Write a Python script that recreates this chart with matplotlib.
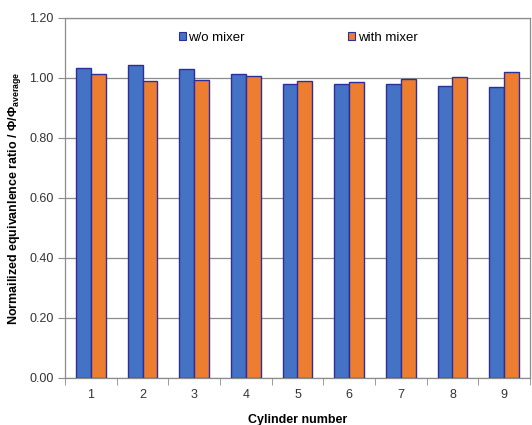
import matplotlib
matplotlib.use("Agg")
import matplotlib.pyplot as plt
from matplotlib.patches import Patch
import numpy as np

plt.rcParams['font.family'] = ['Liberation Sans', 'DejaVu Sans']
plt.rcParams['mathtext.fontset'] = 'custom'
plt.rcParams['mathtext.rm'] = 'Liberation Sans'
plt.rcParams['mathtext.bf'] = 'Liberation Sans:bold'

cylinders = ["1", "2", "3", "4", "5", "6", "7", "8", "9"]
without_mixer = [1.032, 1.043, 1.029, 1.012, 0.981, 0.979, 0.980, 0.974, 0.971]
with_mixer = [1.012, 0.990, 0.994, 1.007, 0.990, 0.988, 0.997, 1.002, 1.021]
y_ticks = [0.0, 0.2, 0.4, 0.6, 0.8, 1.0, 1.2]

blue = "#4472C4"
orange = "#ED7D31"
edge = "#2E2E9A"
grid_gray = "#8C8C8C"

W, H = 532, 425
fig = plt.figure(figsize=(W / 100, H / 100), dpi=100)
ax = fig.add_axes([65 / W, (H - 378) / H, (530 - 65) / W, (378 - 18) / H])

x = np.arange(len(cylinders))
bw = 0.29
ax.bar(x - bw / 2, without_mixer, bw, color=blue, edgecolor=edge, linewidth=1.0, zorder=3)
ax.bar(x + bw / 2, with_mixer, bw, color=orange, edgecolor=edge, linewidth=1.0, zorder=3)

ax.set_xlim(-0.5, len(cylinders) - 0.5)
ax.set_ylim(0, 1.2)
ax.set_yticks(y_ticks)
ax.set_yticklabels([f"{v:.2f}" for v in y_ticks], fontsize=9, color="#333333")
ax.set_xticks(x)
ax.set_xticklabels(cylinders, fontsize=9, color="#333333")
ax.set_xticks(np.arange(-0.5, len(cylinders), 1.0), minor=True)
ax.tick_params(axis="x", which="major", length=0, pad=8)
ax.tick_params(axis="x", which="minor", length=5, color=grid_gray, direction="out")
ax.tick_params(axis="y", length=5, color=grid_gray, direction="out", pad=3)

ax.yaxis.grid(True, color=grid_gray, linewidth=0.9, zorder=0)
for s in ax.spines.values():
    s.set_color(grid_gray)
    s.set_linewidth(0.9)

ax.set_xlabel("Cylinder number", fontsize=9, fontweight="bold", labelpad=9)
ax.set_ylabel("Normailized equivanlence ratio / Φ/Φ$_{\\mathbf{average}}$",
              fontsize=9, fontweight="bold", labelpad=5)

handles = [Patch(facecolor=blue, edgecolor=edge, linewidth=0.8),
           Patch(facecolor=orange, edgecolor=edge, linewidth=0.8)]
ax.legend(handles, ["w/o mixer", "with mixer"], loc="center", ncol=2,
          bbox_to_anchor=((298 - 65) / 465, (378 - 38) / 360),
          frameon=False, fontsize=9.5, handlelength=0.55, handleheight=0.55,
          handletextpad=0.2, columnspacing=7.8)

fig.savefig("out.png", dpi=100)
